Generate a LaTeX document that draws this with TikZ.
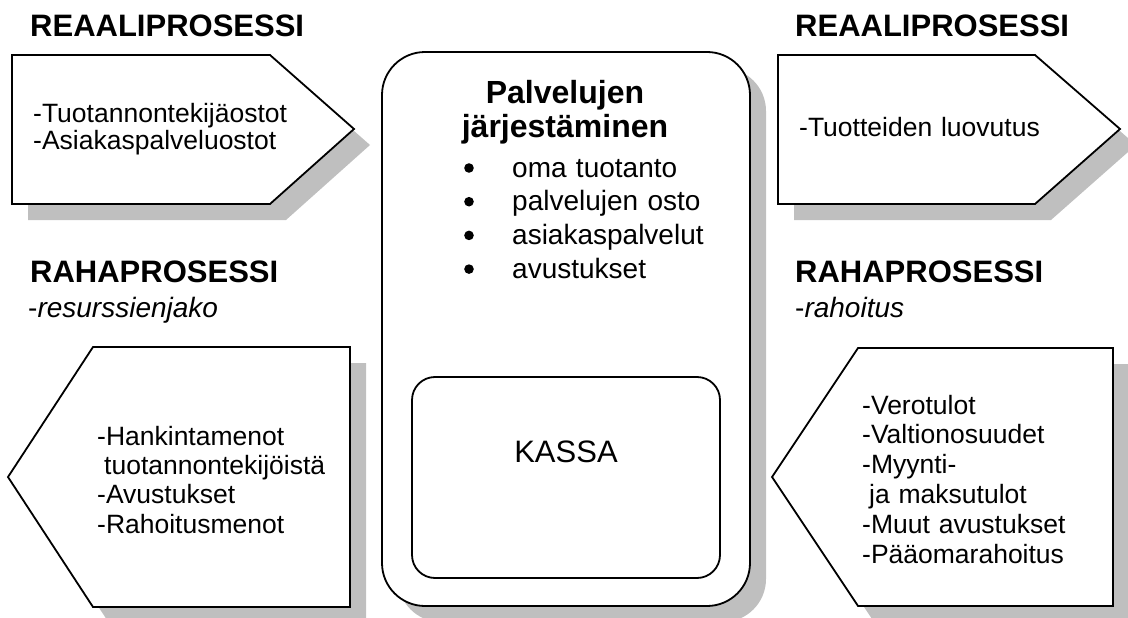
\documentclass[tikz,border=0pt]{standalone}
\usepackage{fontspec}
\setmainfont{Liberation Sans}
\begin{document}
\begin{tikzpicture}[x=1pt,y=-1pt,
  outline/.style={draw=black,line width=1.8pt,fill=white,line join=miter},
  shade/.style={fill=black!25,draw=none},
  heading/.style={anchor=base west,inner sep=0pt,font=\fontsize{31}{36}\selectfont\bfseries},
  sub/.style={anchor=base west,inner sep=0pt,font=\fontsize{28}{32}\selectfont},
  body/.style={anchor=base west,inner sep=0pt,text width=#1,align=left},
  bodyfont/.style={font=\fontsize{26.5}{#1}\selectfont},
  dot/.style={fill=black,draw=none},
  ]
\useasboundingbox (0,0) rectangle (1128,618);

% drop shadows
\fill[shade,shift={(16,16)}] (12,55) -- (270,55) -- (354,129) -- (270,204) -- (12,204) -- cycle;
\fill[shade,shift={(16,16)}] (778,55) -- (1035,55) -- (1120,129) -- (1035,204) -- (778,204) -- cycle;
\fill[shade,shift={(16,16)}] (8,477) -- (93,347) -- (350,347) -- (350,607) -- (93,607) -- cycle;
\fill[shade,shift={(16,16)}] (772,477) -- (858,348) -- (1113,348) -- (1113,606) -- (858,606) -- cycle;
\fill[shade,shift={(16,16)},rounded corners=43pt] (382,52) rectangle (750,606);

% process arrows
\draw[outline] (12,55) -- (270,55) -- (354,129) -- (270,204) -- (12,204) -- cycle;
\draw[outline] (778,55) -- (1035,55) -- (1120,129) -- (1035,204) -- (778,204) -- cycle;
\draw[outline] (8,477) -- (93,347) -- (350,347) -- (350,607) -- (93,607) -- cycle;
\draw[outline] (772,477) -- (858,348) -- (1113,348) -- (1113,606) -- (858,606) -- cycle;

% central organiser with the cash box
\draw[outline,rounded corners=43pt] (382,52) rectangle (750,606);
\draw[outline,rounded corners=23pt] (412,377) rectangle (720,578);

% headings
\node[heading] (realL) at (30,37) {REAALIPROSESSI};
\node[heading] (realR) at (795,37) {REAALIPROSESSI};
\node[heading] (rahaL) at (30,282) {RAHAPROSESSI};
\node[heading] (rahaR) at (795,282) {RAHAPROSESSI};
\node[sub] (subL) at (28,317) {-\textit{resurssienjako}};
\node[sub] (subR) at (795,317) {-\textit{rahoitus}};

% arrow contents
\node[body=280pt,bodyfont=28] (tlText) at (33,122)
  {-Tuotannontekijäostot\\-Asiakaspalveluostot};
\node[body=280pt,bodyfont=28] (trText) at (799,136) {-Tuotteiden luovutus};
\node[body=250pt,bodyfont=29.4] (blText) at (97,445)
  {-Hankintamenot\\\hspace*{7pt}tuotannontekijöistä\\-Avustukset\\-Rahoitusmenot};
\node[body=240pt,bodyfont=29.8] (brText) at (862,414)
  {-Verotulot\\-Valtionosuudet\\-Myynti-\\\hspace*{7pt}ja maksutulot\\-Muut avustukset\\-Pääomarahoitus};

% centre contents
\node[anchor=base,inner sep=0pt,text width=300pt,align=center,
      font=\fontsize{32}{34}\selectfont\bfseries] (title) at (565,103)
  {Palvelujen\\järjestäminen};
\node[body=240pt,font=\fontsize{28}{33.7}\selectfont] (list) at (512,177)
  {oma tuotanto\\palvelujen osto\\asiakaspalvelut\\avustukset};
\foreach \k in {0,1,2,3}
  \fill[dot] (469,{168+33.7*\k}) circle (4.8pt);
\node[anchor=base,inner sep=0pt,font=\fontsize{31}{36}\selectfont] (kassa) at (566,462) {KASSA};
\end{tikzpicture}
\end{document}
